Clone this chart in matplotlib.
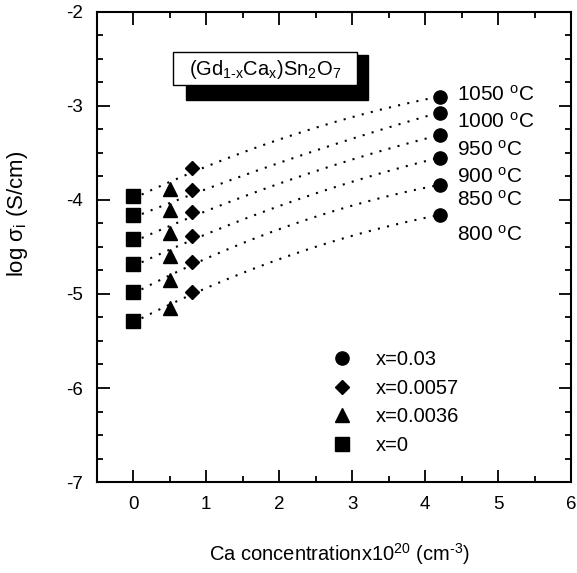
import numpy as np
import matplotlib.pyplot as plt
from matplotlib.patches import Rectangle

plt.rcParams['font.family'] = ['Liberation Sans', 'DejaVu Sans']
plt.rcParams['mathtext.fontset'] = 'custom'
plt.rcParams['mathtext.rm'] = 'Liberation Sans'
plt.rcParams['mathtext.it'] = 'Liberation Sans:italic'
plt.rcParams['axes.unicode_minus'] = False

# Ca concentration (x10^20 cm^-3) for each composition
conc = [0.0, 0.5, 0.8, 4.2]
comp_labels = ['x=0', 'x=0.0036', 'x=0.0057', 'x=0.03']
markers = ['s', '^', 'D', 'o']
temps = ['1050', '1000', '950', '900', '850', '800']

# log sigma_i, one row per temperature (1050 -> 800 C), columns follow conc
log_sigma = np.array([
    [-3.96, -3.88, -3.66, -2.90],
    [-4.16, -4.11, -3.89, -3.07],
    [-4.42, -4.35, -4.13, -3.31],
    [-4.68, -4.60, -4.38, -3.55],
    [-4.98, -4.85, -4.66, -3.84],
    [-5.29, -5.15, -4.98, -4.16],
])

fig = plt.figure(figsize=(5.77, 5.73), dpi=100)
ax = fig.add_axes([0.1676, 0.1588, 0.8220, 0.8203])

# dotted guide curves (quadratic fit per temperature)
xs = np.linspace(conc[0], conc[-1], 200)
for row in log_sigma:
    c = np.polyfit(conc, row, 2)
    ax.plot(xs, np.polyval(c, xs), color='black', lw=1.5, ls=(0, (1, 3.5)))

sizes = {'s': 9.5, '^': 10, 'D': 7.5, 'o': 9.5}
handles = []
for j in range(len(conc)):
    h, = ax.plot([conc[j]] * len(temps), log_sigma[:, j], ls='none',
                 marker=markers[j], ms=sizes[markers[j]], color='black',
                 label=comp_labels[j])
    handles.append(h)

# temperature labels
label_y = [-2.88, -3.17, -3.46, -3.75, -4.0, -4.37]
for t, yy in zip(temps, label_y):
    ax.text(4.44, yy, t + r' $^{\mathrm{o}}$C', fontsize=15, va='center', ha='left')

ax.legend(handles[::-1], comp_labels[::-1], loc='upper left',
          bbox_to_anchor=(0.496, 0.281), frameon=False, fontsize=14.5,
          handlelength=1.0, handletextpad=1.2, labelspacing=0.48,
          borderpad=0, borderaxespad=0)

# composition box with shadow
ax.add_patch(Rectangle((0.189, 0.8128), 0.383, 0.095, transform=ax.transAxes,
                       facecolor='black', edgecolor='black', zorder=3))
ax.add_patch(Rectangle((0.161, 0.8447), 0.388, 0.0708, transform=ax.transAxes,
                       facecolor='white', edgecolor='black', lw=1.0, zorder=4))
ax.text(0.355, 0.878, r'(Gd$_{\mathrm{1\text{-}x}}$Ca$_{\mathrm{x}}$)Sn$_{\mathrm{2}}$O$_{\mathrm{7}}$',
        transform=ax.transAxes, fontsize=14.5, ha='center', va='center', zorder=5)

ax.set_xlim(-0.5, 6)
ax.set_ylim(-7, -2)
ax.set_xticks([0, 1, 2, 3, 4, 5, 6])
ax.set_xticks(np.arange(-0.5, 6.01, 0.5), minor=True)
ax.set_yticks([-7, -6, -5, -4, -3, -2])
ax.set_yticks(np.arange(-7, -1.99, 0.25), minor=True)
ax.tick_params(which='both', direction='in', top=True, right=True,
               labelsize=13.5, width=1.3)
ax.tick_params(which='major', length=9, pad=10)
ax.tick_params(which='minor', length=4.5)
for s in ax.spines.values():
    s.set_linewidth(1.5)

ax.set_xlabel(r'Ca concentrationx10$^{\mathrm{20}}$ (cm$^{\mathrm{\text{-}3}}$)', fontsize=14.5)
ax.xaxis.set_label_coords(0.511, -0.125)
ax.set_ylabel(r'log σ$_{\mathrm{i}}$ (S/cm)', fontsize=16)
ax.yaxis.set_label_coords(-0.14, 0.57)

plt.savefig('out.png', dpi=100)
